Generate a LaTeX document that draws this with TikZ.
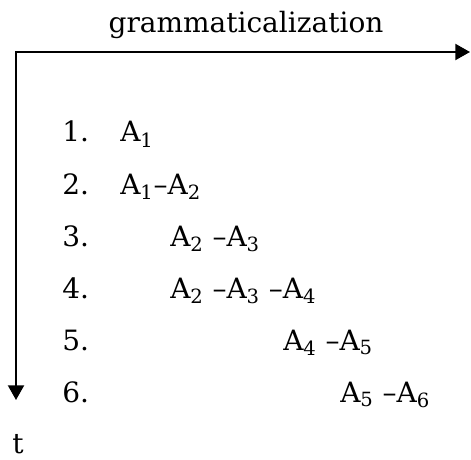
\documentclass[tikz,border=0pt]{standalone}
\usepackage{fontspec}
\setmainfont{DejaVu Serif}
\usetikzlibrary{positioning, arrows.meta}
\tikzset{
  axis/.style  = {{Triangle[length=11pt,width=12pt]}-{Triangle[length=11pt,width=12pt]},
                  line width=1.5pt, line join=miter},
  lbl/.style   = {inner sep=0pt, anchor=base, font=\fontsize{21}{25}\selectfont},
  num/.style   = {lbl, anchor=base west},
  seq/.style   = {lbl, anchor=base west},
}
\newcommand{\Asub}[1]{A\textsubscript{#1}}

\begin{document}
\begin{tikzpicture}[x=0.75pt, y=-0.75pt]

% ── frame (1 unit = 1 px of the 471 x 460 image) ──────────
\useasboundingbox (0,0) rectangle (471,460);

% ── axes ──────────────────────────────────────────────────
\coordinate (gram-end) at (470,52);
\coordinate (time-end) at (16,400);
\draw[axis] (time-end) |- (gram-end);

\node[lbl] (gram) at (246,33) {grammaticalization};
\node[lbl, anchor=base west] (time) at (12,453) {t};

% ── stages ────────────────────────────────────────────────
%   rows every 52 px, first baseline at y = 142
\node[num] (n1) at (62,142) {1.};
\node[num] (n2) at (62,194) {2.};
\node[num] (n3) at (62,246) {3.};
\node[num] (n4) at (62,298) {4.};
\node[num] (n5) at (62,350) {5.};
\node[num] (n6) at (62,402) {6.};

\node[seq] (s1) at (120,142) {\Asub{1}};
\node[seq] (s2) at (120,194) {\Asub{1}–\Asub{2}};
\node[seq] (s3) at (170,246) {\Asub{2} –\Asub{3}};
\node[seq] (s4) at (170,298) {\Asub{2} –\Asub{3} –\Asub{4}};
\node[seq] (s5) at (283,350) {\Asub{4} –\Asub{5}};
\node[seq] (s6) at (340,402) {\Asub{5} –\Asub{6}};

\end{tikzpicture}
\end{document}
